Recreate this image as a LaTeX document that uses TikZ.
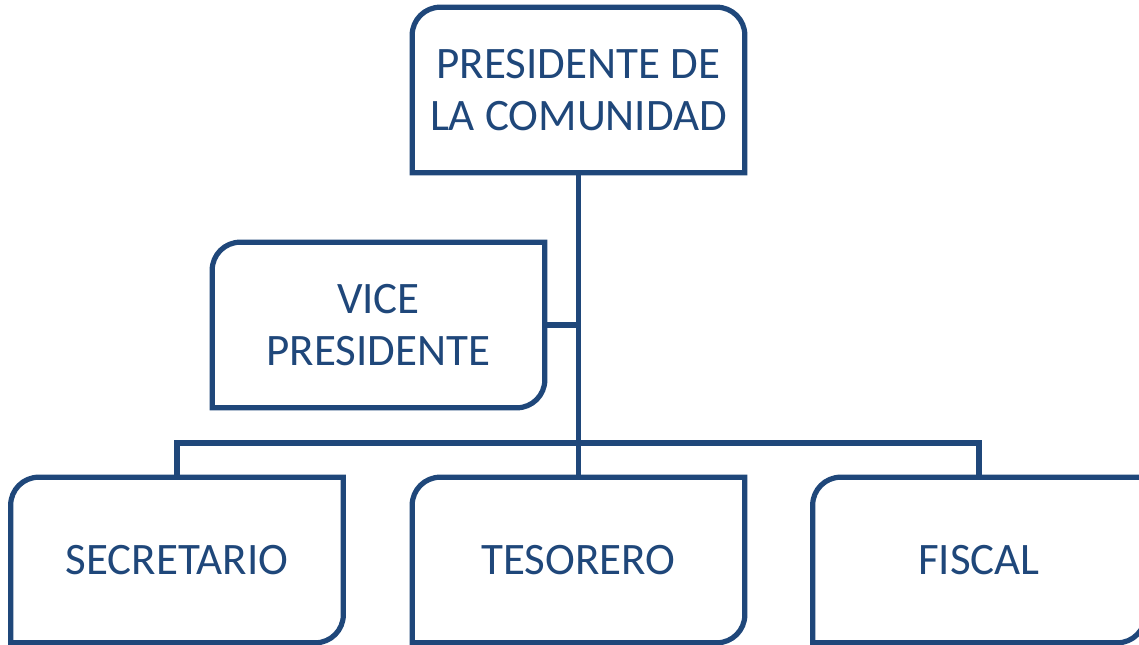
\documentclass[tikz,border=0pt]{standalone}
\usepackage{fontspec}
\setmainfont{Carlito}
\usepackage{tikz}

\definecolor{orgblue}{HTML}{1F477A}
\tikzset{
  cargo/.style={minimum width=8.3cm, minimum height=4.125cm, align=center,
    text=orgblue, inner sep=0pt, font=\fontsize{32}{36.5}\selectfont},
  linea/.style={draw=orgblue, line width=0.13cm}
}
% box with two diagonal rounded corners
\newcommand\diagbox[1]{\draw[linea] (#1.west) [rounded corners=0.7cm] |- (#1.north)
  [sharp corners] -| (#1.east) [rounded corners=0.7cm] |- (#1.south)
  [sharp corners] -| (#1.west) -- cycle;}

\begin{document}
\begin{tikzpicture}[x=0.025cm,y=-0.025cm]
    \useasboundingbox (0,0) rectangle (1139,645);
    \clip (0,0) rectangle (1139,645);
    \node[cargo] (pres) at (578.5,90) {PRESIDENTE DE\\LA COMUNIDAD};
    \node[cargo] (vice) at (378.5,325) {VICE\\PRESIDENTE};
    \node[cargo] (sec) at (177,560) {SECRETARIO};
    \node[cargo] (tes) at (578.5,560) {TESORERO};
    \node[cargo] (fis) at (979,560) {FISCAL};
    \coordinate (bar) at (578.5,443);
    % connectors
    \draw[linea] (pres.south) -- (tes.north);
    \draw[linea] (vice.east) -- (vice.east -| pres.south);
    \draw[linea] (sec.north) |- (bar) -| (fis.north);
    % boxes
    \draw[linea] (pres.south) -| (pres.west) [rounded corners=0.7cm] |- (pres.north)
      -| (pres.east) [sharp corners] |- (pres.south);
    \diagbox{vice}
    \diagbox{sec}
    \diagbox{tes}
    \diagbox{fis}
\end{tikzpicture}
\end{document}
